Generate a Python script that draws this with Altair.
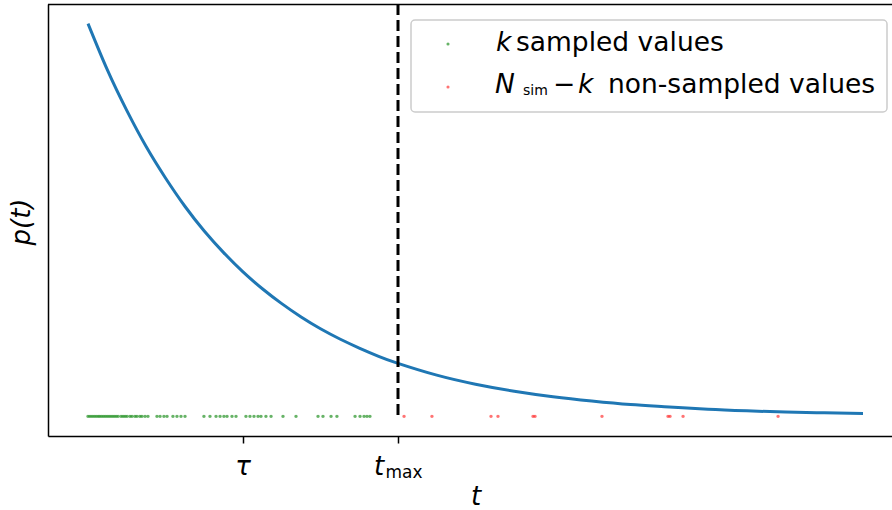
import altair as alt
import pandas as pd

# sampled values (t < t_max), in units of tau
green_t = [0.0, 0.013, 0.026, 0.039, 0.052, 0.065, 0.077, 0.09, 0.103, 0.116,
           0.129, 0.142, 0.155, 0.168, 0.181, 0.194, 0.213, 0.226, 0.239, 0.252,
           0.271, 0.284, 0.303, 0.316, 0.335, 0.348, 0.368, 0.387,
           0.445, 0.465, 0.49, 0.51, 0.548, 0.574, 0.6, 0.626,
           0.748, 0.787, 0.826, 0.852, 0.877, 0.897, 0.929, 0.955,
           1.019, 1.045, 1.071, 1.097, 1.116, 1.148, 1.181, 1.258, 1.342,
           1.484, 1.516, 1.568, 1.606, 1.723, 1.755, 1.781, 1.8, 1.819]
# non-sampled values (t > t_max)
red_t = [2.039, 2.219, 2.6, 2.645, 2.871, 2.884, 3.316, 3.742, 3.755, 3.839, 4.452]

# curve p(t)
curve_t = [0, 0.125, 0.25, 0.375, 0.5, 0.625, 0.75, 0.875, 1.0, 1.125, 1.25,
           1.375, 1.5, 1.625, 1.75, 1.875, 2.0, 2.25, 2.5, 2.75,
           3.0, 3.25, 3.5, 3.75, 4.0, 4.25, 4.5, 4.75, 5.0]
curve_p = [1.0, 0.882, 0.779, 0.687, 0.607, 0.535, 0.472, 0.417, 0.368, 0.325,
           0.287, 0.253, 0.223, 0.197, 0.174, 0.153, 0.135, 0.105, 0.082, 0.064,
           0.05, 0.039, 0.03, 0.024, 0.018, 0.014, 0.011, 0.009, 0.007]

tau = 1.0
t_max = 2.0

W, H = 844, 432
FONT = "DejaVu Sans"
FS = 26
LFS = 26.5

curve_df = pd.DataFrame({"t": curve_t, "p": curve_p})
green_df = pd.DataFrame({"t": green_t, "p": [0.0] * len(green_t)})
red_df = pd.DataFrame({"t": red_t, "p": [0.0] * len(red_t)})

xscale = alt.Scale(domain=[-0.258, 5.187], nice=False, zero=False)
yscale = alt.Scale(domain=[-0.05, 1.05], nice=False, zero=False)

xax = alt.Axis(values=[tau, t_max], labels=False, title=None, grid=False,
               domainColor="black", domainWidth=1.5, tickColor="black",
               tickWidth=1.5, tickSize=7)
yax = alt.Axis(values=[], labels=False, title=None, grid=False, ticks=False,
               domainColor="black", domainWidth=1.5)

curve = alt.Chart(curve_df).mark_line(color="#1f77b4", strokeWidth=3,
                                      interpolate="natural").encode(
    x=alt.X("t:Q", scale=xscale, axis=xax),
    y=alt.Y("p:Q", scale=yscale, axis=yax),
)

vline = alt.Chart(pd.DataFrame({"t": [t_max], "y0": [0.0], "y1": [1.05]})).mark_rule(
    color="black", strokeWidth=3, strokeDash=[11, 5]).encode(
    x="t:Q", y="y1:Q", y2="y0:Q")

gpts = alt.Chart(green_df).mark_circle(color="green", size=12, opacity=0.6).encode(
    x="t:Q", y="p:Q")
rpts = alt.Chart(red_df).mark_circle(color="red", size=12, opacity=0.55).encode(
    x="t:Q", y="p:Q")

top = alt.Chart(pd.DataFrame({"a": [0]})).mark_rule(color="black", strokeWidth=1.5).encode(
    x=alt.value(0), x2=alt.value(W + 10), y=alt.value(0.5))

# tick labels
tau_lbl = alt.Chart(pd.DataFrame({"t": [tau], "s": ["τ"]})).mark_text(
    font=FONT, fontSize=FS, fontStyle="italic", baseline="middle", align="center").encode(
    x="t:Q", y=alt.value(463), text="s:N")
tmax_t = alt.Chart(pd.DataFrame({"t": [t_max], "s": ["t"]})).mark_text(
    font=FONT, fontSize=FS, fontStyle="italic", baseline="middle", align="center",
    dx=-19).encode(x="t:Q", y=alt.value(463), text="s:N")
tmax_sub = alt.Chart(pd.DataFrame({"t": [t_max], "s": ["max"]})).mark_text(
    font=FONT, fontSize=17, baseline="middle", align="center", dx=6).encode(
    x="t:Q", y=alt.value(469), text="s:N")

xtitle = alt.Chart(pd.DataFrame({"s": ["t"]})).mark_text(
    font=FONT, fontSize=FS, fontStyle="italic", baseline="middle", align="center").encode(
    x=alt.value(428), y=alt.value(493), text="s:N")
ytitle = alt.Chart(pd.DataFrame({"s": ["p(t)"]})).mark_text(
    font=FONT, fontSize=FS, fontStyle="italic", baseline="middle", align="center",
    angle=270).encode(x=alt.value(-26), y=alt.value(218), text="s:N")

# legend
lg_box = alt.Chart(pd.DataFrame({"a": [0]})).mark_rect(
    fill="white", fillOpacity=0.85, stroke="#cccccc", strokeWidth=1.5, cornerRadius=4).encode(
    x=alt.value(411 - 48), x2=alt.value(887 - 48), y=alt.value(20 - 4), y2=alt.value(112 - 4))
lg_g = alt.Chart(pd.DataFrame({"a": [0]})).mark_circle(color="green", size=10, opacity=0.6).encode(
    x=alt.value(448 - 48), y=alt.value(44 - 4))
lg_r = alt.Chart(pd.DataFrame({"a": [0]})).mark_circle(color="red", size=10, opacity=0.55).encode(
    x=alt.value(448 - 48), y=alt.value(87 - 4))


def txt(s, x, y, italic=False, size=LFS):
    kw = dict(font=FONT, fontSize=size, baseline="middle", align="left", color="black")
    if italic:
        kw["fontStyle"] = "italic"
    return alt.Chart(pd.DataFrame({"s": [s]})).mark_text(**kw).encode(
        x=alt.value(x - 48), y=alt.value(y - 4), text="s:N")


legend_texts = [
    txt("k", 496, 43, italic=True),
    txt("sampled values", 516, 43),
    txt("N", 495, 85, italic=True),
    txt("sim", 523, 91, size=14),
    txt("−", 553, 85),
    txt("k", 578, 85, italic=True),
    txt("non-sampled values", 608, 85),
]

chart = alt.layer(
    curve, vline, gpts, rpts, top, tau_lbl, tmax_t, tmax_sub, xtitle, ytitle,
    lg_box, lg_g, lg_r, *legend_texts
).resolve_scale(x="shared", y="shared").properties(
    width=W, height=H,
    autosize=alt.AutoSizeParams(type="none"),
    padding={"left": 48, "top": 4, "right": 0, "bottom": 74},
).configure_view(stroke=None).configure(background="white")

chart.save("out.html", embed_options={"renderer": "svg", "actions": False})
